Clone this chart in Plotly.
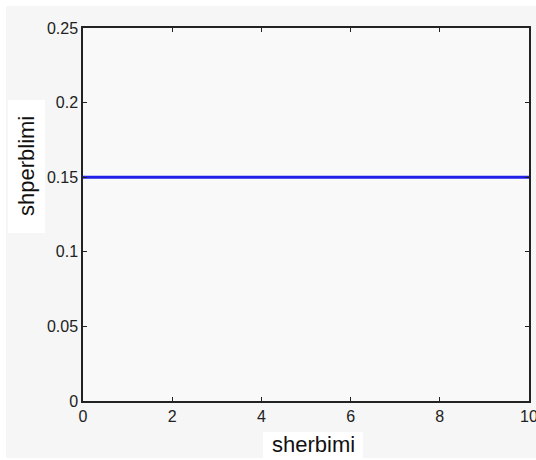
import plotly.graph_objects as go

x_vals = [0, 10]
y_vals = [0.15, 0.15]
x_ticks = [0, 2, 4, 6, 8, 10]
y_ticks = [0, 0.05, 0.1, 0.15, 0.2, 0.25]
y_tick_text = ["0", "0.05", "0.1", "0.15", "0.2", "0.25"]
x_title = "sherbimi"
y_title = "shperblimi"

W, H = 536, 460
L, R, T, B = 83, 7, 28, 59
pw, ph = W - L - R, H - T - B

def px2x(px):
    return (px - L) / pw

def py2y(py):
    return 1 - (py - T) / ph

fig = go.Figure()
fig.add_trace(go.Scatter(x=x_vals, y=y_vals, mode="lines",
                         line=dict(color="#2020e8", width=3), showlegend=False))

axis_common = dict(showgrid=False, zeroline=False, showline=True, linecolor="#222",
                   linewidth=1.5, mirror="ticks", ticks="inside", ticklen=4, automargin=False,
                   ticklabeloverflow="allow",
                   tickcolor="#222", tickfont=dict(family="Liberation Sans, Arial", size=16, color="#222"))
fig.update_xaxes(range=[0, 10], tickvals=x_ticks, ticktext=[str(v) for v in x_ticks], **axis_common)
fig.update_yaxes(range=[0, 0.25], tickvals=y_ticks, ticktext=y_tick_text, **axis_common)

# white outer strips (top, left, bottom)
fig.add_shape(type="rect", xref="paper", yref="paper", x0=px2x(0), x1=px2x(W), y0=py2y(0), y1=py2y(6),
              fillcolor="white", line_width=0, layer="below")
fig.add_shape(type="rect", xref="paper", yref="paper", x0=px2x(0), x1=px2x(6), y0=py2y(0), y1=py2y(H),
              fillcolor="white", line_width=0, layer="below")
fig.add_shape(type="rect", xref="paper", yref="paper", x0=px2x(0), x1=px2x(W), y0=py2y(458), y1=py2y(H),
              fillcolor="white", line_width=0, layer="below")
# white label boxes
fig.add_shape(type="rect", xref="paper", yref="paper", x0=px2x(8), x1=px2x(45), y0=py2y(100), y1=py2y(233),
              fillcolor="white", line_width=0, layer="below")
fig.add_shape(type="rect", xref="paper", yref="paper", x0=px2x(263), x1=px2x(363), y0=py2y(432), y1=py2y(458),
              fillcolor="white", line_width=0, layer="below")

fig.add_annotation(text=x_title, xref="paper", yref="paper", x=px2x(313), y=py2y(444),
                   showarrow=False, font=dict(family="Liberation Sans, Arial", size=22, color="#111"),
                   xanchor="center", yanchor="middle")
fig.add_annotation(text=y_title, xref="paper", yref="paper", x=px2x(26), y=py2y(166),
                   showarrow=False, textangle=-90,
                   font=dict(family="Liberation Sans, Arial", size=22, color="#111"),
                   xanchor="center", yanchor="middle")

fig.update_layout(width=W, height=H, margin=dict(l=L, r=R, t=T, b=B, autoexpand=False),
                  paper_bgcolor="#f5f6f5", plot_bgcolor="#f8f9f8")
fig.write_html("out.html")
